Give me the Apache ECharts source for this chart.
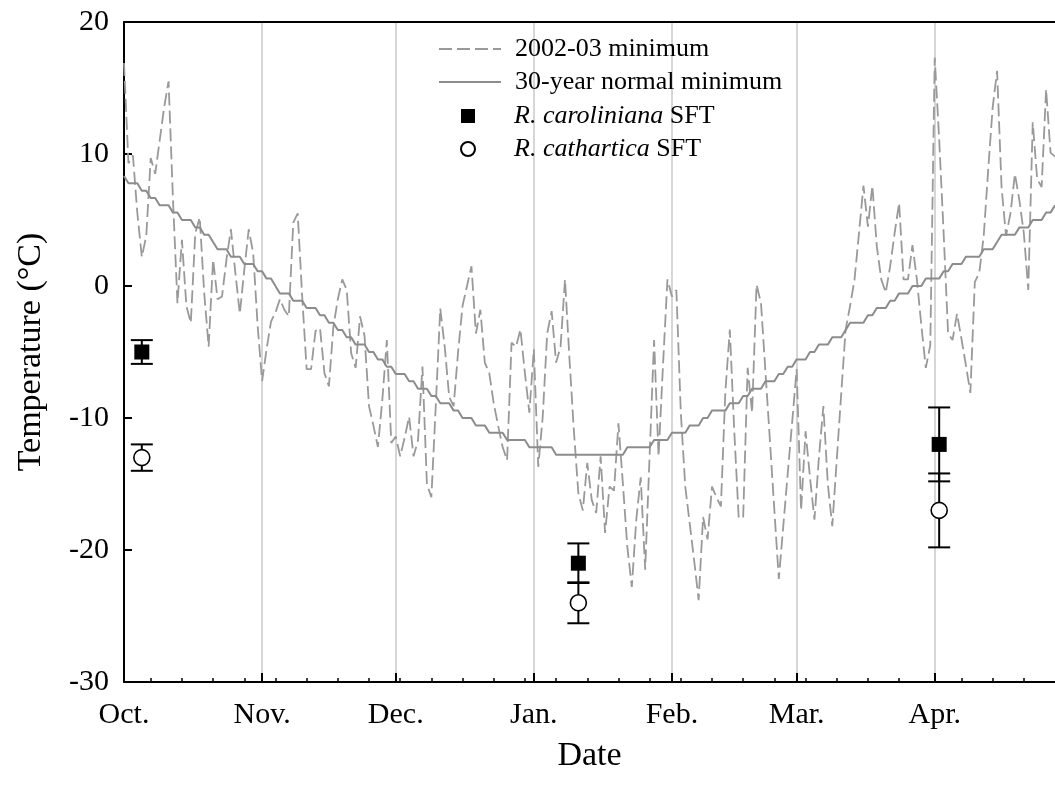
<!DOCTYPE html>
<html><head><meta charset="utf-8">
<script src="https://cdn.jsdelivr.net/npm/echarts@6/dist/echarts.min.js"></script>
<style>html,body{margin:0;padding:0;background:#fff}#c{width:1055px;height:789px}</style>
</head><body><div id="c"></div>
<script>
// Day 0 = Oct 1, 2002
const monthStarts = [0, 31, 61, 92, 123, 151, 182];
const monthLabels = ['Oct.', 'Nov.', 'Dec.', 'Jan.', 'Feb.', 'Mar.', 'Apr.'];
const weekTicks = [6,13,20,27,34,41,48,55,62,69,76,83,90,97,104,111,118,125,132,139,146,153,160,167,174,188,195,202];

// 2002-03 daily minimum temperature (°C), one value per day from Oct 1
const dailyMin = [
  16.9, 9.3, 9.9, 5.5, 2.2, 3.8, 9.7, 8.5, 11.0, 13.5,
  15.5, 6.5, -1.3, 3.5, -1.5, -2.8, 4.0, 5.2, -0.5, -4.6,
  2.0, -1.0, -0.8, 2.0, 4.3, 1.0, -2.1, 1.2, 4.3, 2.5,
  -3.0, -7.2, -4.8, -2.7, -2.0, -1.0, -1.8, -2.3, 4.8, 5.5,
  -0.8, -6.3, -6.3, -3.4, -3.2, -6.6, -7.6, -3.1, -1.0, 0.5,
  -0.3, -5.1, -6.2, -2.3, -3.8, -9.1, -10.6, -12.2, -8.6, -4.1,
  -11.9, -11.4, -12.9, -11.5, -9.9, -12.9, -11.7, -6.1, -15.0, -16.0,
  -9.0, -1.7, -4.6, -8.4, -9.1, -5.0, -1.5, 0.0, 1.5, -3.6,
  -1.8, -5.8, -6.6, -8.9, -10.6, -12.2, -13.2, -4.3, -4.6, -3.3,
  -6.6, -9.6, -4.8, -13.7, -9.9, -3.6, -1.9, -5.8, -4.6, 0.5,
  -5.5, -11.0, -15.7, -17.0, -13.4, -16.2, -17.2, -12.9, -18.7, -15.2,
  -15.5, -10.4, -15.0, -19.8, -22.8, -17.7, -14.5, -21.5, -12.8, -4.1,
  -12.9, -6.0, 0.5, -0.8, -0.3, -9.6, -15.2, -18.0, -20.8, -23.8,
  -17.5, -19.2, -15.2, -16.0, -16.7, -8.0, -3.3, -11.0, -17.6, -17.5,
  -6.2, -9.6, 0.1, -1.3, -6.5, -11.7, -17.0, -22.2, -18.2, -14.2,
  -10.3, -6.3, -17.0, -11.0, -14.5, -17.7, -13.0, -9.1, -15.0, -18.2,
  -13.2, -8.2, -3.3, -1.5, 0.5, 4.0, 7.6, 4.5, 7.6, 3.0,
  0.5, -0.5, 1.5, 4.0, 6.3, 0.5, 0.5, 3.1, 0.5, -3.0,
  -6.2, -4.5, 17.3, 11.1, 4.0, -3.6, -4.1, -2.1, -4.0, -6.0,
  -8.1, 0.3, 1.0, 3.8, 8.8, 13.5, 16.3, 7.5, 3.8, 5.5,
  8.5, 6.5, 4.0, -0.3, 12.4, 8.1, 7.5, 14.9, 10.1, 9.8
];

// 30-year normal minimum (°C): [day, value] at the corners of its steps
const normalMin = [
  [0,8.33],[1,7.78],[3,7.78],[4,7.22],[5,7.22],[6,6.67],[7,6.67],[8,6.11],[10,6.11],[11,5.56],
  [12,5.56],[13,5.0],[15,5.0],[16,4.44],[17,4.44],[18,3.89],[19,3.89],[20,3.33],[21,2.78],[23,2.78],
  [24,2.22],[26,2.22],[27,1.67],[29,1.67],[30,1.11],[31,1.11],[32,0.56],[33,0.56],[34,0],[35,-0.56],
  [37,-0.56],[38,-1.11],[40,-1.11],[41,-1.67],[43,-1.67],[44,-2.22],[45,-2.22],[46,-2.78],[47,-2.78],[48,-3.33],
  [49,-3.33],[50,-3.89],[51,-3.89],[52,-4.44],[54,-4.44],[55,-5.0],[56,-5.0],[57,-5.56],[58,-5.56],[59,-6.11],
  [60,-6.11],[61,-6.67],[63,-6.67],[64,-7.22],[65,-7.22],[66,-7.78],[68,-7.78],[69,-8.33],[70,-8.33],[71,-8.89],
  [73,-8.89],[74,-9.44],[75,-9.44],[76,-10.0],[78,-10.0],[79,-10.56],[81,-10.56],[82,-11.11],[85,-11.11],[86,-11.67],
  [90,-11.67],[91,-12.22],[96,-12.22],[97,-12.78],[112,-12.78],[113,-12.22],[118,-12.22],[119,-11.67],[122,-11.67],[123,-11.11],
  [126,-11.11],[127,-10.56],[129,-10.56],[130,-10.0],[131,-10.0],[132,-9.44],[135,-9.44],[136,-8.89],[138,-8.89],[139,-8.33],
  [140,-8.33],[141,-7.78],[143,-7.78],[144,-7.22],[146,-7.22],[147,-6.67],[148,-6.67],[149,-6.11],[150,-6.11],[151,-5.56],
  [153,-5.56],[154,-5.0],[155,-5.0],[156,-4.44],[158,-4.44],[159,-3.89],[161,-3.89],[162,-3.33],[163,-2.78],[166,-2.78],
  [167,-2.22],[168,-2.22],[169,-1.67],[171,-1.67],[172,-1.11],[173,-1.11],[174,-0.56],[176,-0.56],[177,0],[179,0],
  [180,0.56],[183,0.56],[184,1.11],[185,1.11],[186,1.67],[188,1.67],[189,2.22],[192,2.22],[193,2.78],[195,2.78],
  [196,3.33],[197,3.89],[200,3.89],[201,4.44],[203,4.44],[204,5.0],[206,5.0],[207,5.56],[208,5.56],[209,6.11]
];

// Stem freezing tolerance (SFT) sampling days, means and error
const sftDays = [4, 102, 183];
const carolinianaMean = [-5, -21, -12];
const carolinianaErr = [0.9, 1.5, 2.8];
const catharticaMean = [-13, -24, -17];
const catharticaErr = [1.0, 1.55, 2.8];

const FONT = '"Liberation Serif", "Times New Roman", serif';

function errRender(params, api) {
  const x = api.value(0), lo = api.value(1), hi = api.value(2);
  const a = api.coord([x, lo]), b = api.coord([x, hi]);
  const hw = 11;
  const st = { stroke: '#000', lineWidth: 2 };
  return { type: 'group', children: [
    { type: 'line', shape: { x1: a[0], y1: a[1], x2: b[0], y2: b[1] }, style: st },
    { type: 'line', shape: { x1: a[0] - hw, y1: a[1], x2: a[0] + hw, y2: a[1] }, style: st },
    { type: 'line', shape: { x1: b[0] - hw, y1: b[1], x2: b[0] + hw, y2: b[1] }, style: st }
  ]};
}

const chart = echarts.init(document.getElementById('c'), null, { renderer: 'canvas' });
chart.setOption({
  animation: false,
  backgroundColor: '#fff',
  grid: { left: 124, right: 0, top: 22, bottom: 107, containLabel: false },
  xAxis: [
    {
      type: 'value', min: 0, max: 209, position: 'bottom',
      name: 'Date', nameLocation: 'middle', nameGap: 57,
      nameTextStyle: { fontFamily: FONT, fontSize: 34, color: '#000' },
      axisLine: { show: true, onZero: false, lineStyle: { color: '#000', width: 2 } },
      axisTick: { show: true, inside: true, length: 9, customValues: monthStarts, lineStyle: { color: '#000', width: 2 } },
      axisLabel: { show: true, customValues: monthStarts, margin: 18,
        formatter: v => monthLabels[monthStarts.indexOf(v)] || '',
        fontFamily: FONT, fontSize: 30, color: '#000' },
      splitLine: { show: true, lineStyle: { color: '#c8c8c8', width: 1.5 } }
    },
    {
      type: 'value', min: 0, max: 209, position: 'bottom',
      axisLine: { show: false, onZero: false },
      axisTick: { show: true, inside: true, length: 4, customValues: weekTicks, lineStyle: { color: '#000', width: 1.5 } },
      axisLabel: { show: false }, splitLine: { show: false }
    },
    {
      type: 'value', min: 0, max: 209, position: 'top',
      axisLine: { show: true, onZero: false, lineStyle: { color: '#000', width: 2 } },
      axisTick: { show: false }, axisLabel: { show: false }, splitLine: { show: false }
    }
  ],
  yAxis: {
    type: 'value', min: -30, max: 20, interval: 10,
    name: 'Temperature (°C)', nameLocation: 'middle', nameGap: 76,
    nameTextStyle: { fontFamily: FONT, fontSize: 34, color: '#000' },
    axisLine: { show: true, onZero: false, lineStyle: { color: '#000', width: 2 } },
    axisTick: { show: true, inside: true, length: 8, lineStyle: { color: '#000', width: 2 } },
    axisLabel: { margin: 15, fontFamily: FONT, fontSize: 30, color: '#000' },
    splitLine: { show: false }
  },
  legend: [
    {
      data: ['2002-03 minimum', '30-year normal minimum'],
      orient: 'vertical', left: 438, top: 36, padding: 0,
      itemWidth: 62, itemHeight: 14, itemGap: 7,
      itemStyle: { opacity: 0 },
      formatter: n => '{sp|}' + n,
      textStyle: { fontFamily: FONT, fontSize: 26, color: '#000', rich: { sp: { width: 9 } } }
    },
    {
      data: ['R. caroliniana SFT', 'R. cathartica SFT'],
      orient: 'vertical', left: 460, top: 103, padding: 0,
      itemWidth: 14, itemHeight: 14, itemGap: 7,
      itemStyle: { opacity: 1 },
      formatter: n => '{sp|}{i|' + n.replace(' SFT', '') + '} SFT',
      textStyle: { fontFamily: FONT, fontSize: 26, color: '#000',
        rich: { sp: { width: 34 }, i: { fontFamily: FONT, fontSize: 26, fontStyle: 'italic', color: '#000' } } }
    }
  ],
  series: [
    {
      name: '2002-03 minimum', type: 'line', xAxisIndex: 0,
      data: dailyMin.map((v, i) => [i, v]),
      symbol: 'none', z: 2,
      itemStyle: { color: '#999' },
      lineStyle: { color: '#999', width: 1.8, type: [13, 5] }
    },
    {
      name: '30-year normal minimum', type: 'line', xAxisIndex: 0,
      data: normalMin, symbol: 'none', z: 3,
      itemStyle: { color: '#8c8c8c' },
      lineStyle: { color: '#8c8c8c', width: 2 }
    },
    {
      type: 'custom', xAxisIndex: 0, z: 4, renderItem: errRender,
      data: sftDays.map((d, i) => [d, carolinianaMean[i] - carolinianaErr[i], carolinianaMean[i] + carolinianaErr[i]])
    },
    {
      type: 'custom', xAxisIndex: 0, z: 4, renderItem: errRender,
      data: sftDays.map((d, i) => [d, catharticaMean[i] - catharticaErr[i], catharticaMean[i] + catharticaErr[i]])
    },
    {
      name: 'R. caroliniana SFT', type: 'scatter', xAxisIndex: 0, z: 5,
      symbol: 'rect', symbolSize: 15,
      itemStyle: { color: '#000', opacity: 1 },
      data: sftDays.map((d, i) => [d, carolinianaMean[i]])
    },
    {
      name: 'R. cathartica SFT', type: 'scatter', xAxisIndex: 0, z: 5,
      symbol: 'circle', symbolSize: 16,
      itemStyle: { color: '#fff', borderColor: '#000', borderWidth: 1.6, opacity: 1 },
      data: sftDays.map((d, i) => [d, catharticaMean[i]])
    }
  ]
});
</script></body></html>
